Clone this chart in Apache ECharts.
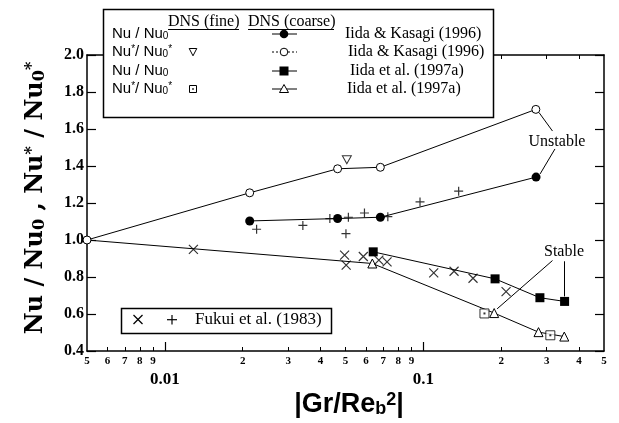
<!DOCTYPE html>
<html><head><meta charset="utf-8">
<script src="https://cdn.jsdelivr.net/npm/echarts@6/dist/echarts.min.js"></script>
<style>html,body{margin:0;padding:0;background:#fff}#c{width:619px;height:423px}</style>
</head><body><div id="c"></div>
<script>
// ---- data (x = |Gr/Re_b^2|, y = Nu/Nu0 or Nu*/Nu0*) ----
const ikStarX = [0.005, 0.0213, 0.0466, 0.0682, 0.2725];
const ikStarY = [1.0, 1.255, 1.385, 1.393, 1.706];
const ikX = [0.0213, 0.0466, 0.0682, 0.273];
const ikY = [1.103, 1.116, 1.123, 1.34];
const i97X = [0.064, 0.1895, 0.2825, 0.352];
const i97Y = [0.936, 0.79, 0.688, 0.668];
const i97StarX = [0.005, 0.0635, 0.188, 0.279, 0.351];
const i97StarY = [1.0, 0.873, 0.605, 0.502, 0.478];
const ikFineStarX = [0.0506];
const ikFineStarY = [1.434];
const i97FineStarX = [0.1724, 0.31];
const i97FineStarY = [0.603, 0.485];
const fukuiCrossX = [0.0129, 0.0496, 0.0503, 0.0586, 0.0673, 0.0724, 0.1097, 0.1315, 0.1557, 0.209];
const fukuiCrossY = [0.949, 0.918, 0.864, 0.911, 0.891, 0.882, 0.822, 0.831, 0.793, 0.721];
const fukuiPlusX = [0.02265, 0.0342, 0.0435, 0.0502, 0.0513, 0.0592, 0.0729, 0.0971, 0.137];
const fukuiPlusY = [1.058, 1.079, 1.116, 1.034, 1.123, 1.146, 1.126, 1.206, 1.264];
// ---- ticks ----
const minorTickValues = [0.006, 0.007, 0.008, 0.009, 0.02, 0.03, 0.04, 0.05, 0.06, 0.07, 0.08, 0.09, 0.2, 0.3, 0.4];
const minorLabelValues = [0.005, 0.006, 0.007, 0.008, 0.009, 0.02, 0.03, 0.04, 0.05, 0.06, 0.07, 0.08, 0.09, 0.2, 0.3, 0.4, 0.5];
const decadeValues = [0.01, 0.1];
const decadeLabels = ['0.01', '0.1'];
// ---- annotation arrows (data space) ----
const unstableArrows = [[[0.316, 1.589], [0.2806, 1.688]], [[0.323, 1.492], [0.283, 1.357]]];
const stableArrows = [[[0.316, 0.889], [0.193, 0.628]], [[0.35, 0.885], [0.35, 0.695]]];

const zip = (xs, ys) => xs.map((x, i) => [x, ys[i]]);
const SERIF = '"Liberation Serif", "Times New Roman", serif';
const SANS = '"Liberation Sans", Arial, sans-serif';
const XMIN = 0.005, XMAX = 0.5;

function leadDigit(v) {
  const e = Math.floor(Math.log10(v) + 1e-9);
  return String(Math.round(v / Math.pow(10, e)));
}

const baseX = {
  type: 'log', logBase: 10, min: XMIN, max: XMAX, gridIndex: 0,
  splitLine: { show: false }, minorTick: { show: false }, minorSplitLine: { show: false }
};

const xAxes = [
  Object.assign({}, baseX, {
    position: 'bottom',
    axisLine: { show: true, onZero: false, lineStyle: { color: '#000', width: 1.5 } },
    axisTick: { show: true, inside: true, length: 4, customValues: minorTickValues, lineStyle: { color: '#000', width: 1 } },
    axisLabel: { show: true, customValues: minorLabelValues, formatter: v => leadDigit(v), margin: 5, showMinLabel: true, showMaxLabel: true,
      fontFamily: SERIF, fontWeight: 'bold', fontSize: 11, color: '#000' }
  }),
  Object.assign({}, baseX, {
    position: 'bottom',
    axisLine: { show: false, onZero: false },
    axisTick: { show: true, inside: true, length: 9, customValues: decadeValues, lineStyle: { color: '#000', width: 1.2 } },
    axisLabel: { show: true, customValues: decadeValues, formatter: v => decadeLabels[decadeValues.findIndex(d => Math.abs(d - v) < 1e-9)] || '', margin: 20,
      fontFamily: SERIF, fontWeight: 'bold', fontSize: 17, color: '#000' }
  }),
  Object.assign({}, baseX, {
    position: 'top',
    axisLine: { show: true, onZero: false, lineStyle: { color: '#000', width: 1.5 } },
    axisTick: { show: true, inside: true, length: 4, customValues: minorTickValues, lineStyle: { color: '#000', width: 1 } },
    axisLabel: { show: false }
  }),
  Object.assign({}, baseX, {
    position: 'top',
    axisLine: { show: false, onZero: false },
    axisTick: { show: true, inside: true, length: 9, customValues: decadeValues, lineStyle: { color: '#000', width: 1.2 } },
    axisLabel: { show: false }
  })
];

const baseY = { type: 'value', min: 0.4, max: 2.0, interval: 0.2, splitLine: { show: false } };
const yAxes = [
  Object.assign({}, baseY, {
    position: 'left',
    axisLine: { show: true, onZero: false, lineStyle: { color: '#000', width: 1.5 } },
    axisTick: { show: true, inside: true, length: 9, lineStyle: { color: '#000', width: 1.2 } },
    axisLabel: { show: true, formatter: v => v.toFixed(1), margin: 3, fontFamily: SERIF, fontWeight: 'bold', fontSize: 16, color: '#000' }
  }),
  Object.assign({}, baseY, {
    position: 'right',
    axisLine: { show: true, onZero: false, lineStyle: { color: '#000', width: 1.5 } },
    axisTick: { show: true, inside: true, length: 9, lineStyle: { color: '#000', width: 1.2 } },
    axisLabel: { show: false }
  })
];

const lineSt = { color: '#000', width: 1 };
const openSt = { color: '#fff', borderColor: '#000', borderWidth: 1 };
const CROSS = 'path://M0,0L10,10M10,0L0,10';
const PLUS = 'path://M5,0L5,10M0,5L10,5';

function arrowLines(list) {
  return list.map(a => [{ coord: a[0] }, { coord: a[1] }]);
}

const series = [
  { name: 'ikStar', type: 'line', data: zip(i97StarX, i97StarY).map((p, i) => i === 0 ? { value: p, symbol: 'none' } : p),
    symbol: 'triangle', symbolSize: 9, itemStyle: openSt, lineStyle: lineSt, z: 3 },
  { name: 'i97', type: 'line', data: zip(i97X, i97Y), symbol: 'rect', symbolSize: 9, itemStyle: { color: '#000' }, lineStyle: lineSt, z: 3 },
  { name: 'ikS', type: 'line', data: zip(ikStarX, ikStarY), symbol: 'circle', symbolSize: 8, itemStyle: openSt, lineStyle: lineSt, z: 4 },
  { name: 'ik', type: 'line', data: zip(ikX, ikY), symbol: 'circle', symbolSize: 9, itemStyle: { color: '#000' }, lineStyle: lineSt, z: 4,
    markLine: { silent: true, animation: false, symbol: ['none', 'arrow'], symbolSize: [0, 7], label: { show: false },
      lineStyle: { color: '#000', width: 1, type: 'solid' }, emphasis: { disabled: true },
      data: arrowLines(unstableArrows.concat(stableArrows)) } },
  { name: 'ikFine', type: 'scatter', data: zip(ikFineStarX, ikFineStarY), symbol: 'triangle', symbolRotate: 180, symbolSize: [9, 8], itemStyle: openSt, z: 5 },
  { name: 'i97Fine', type: 'scatter', data: zip(i97FineStarX, i97FineStarY), symbol: 'rect', symbolSize: 9, itemStyle: openSt, z: 5 },
  { name: 'i97FineDot', type: 'scatter', data: zip(i97FineStarX, i97FineStarY), symbol: 'rect', symbolSize: 2, itemStyle: { color: '#000' }, z: 6 },
  { name: 'fukuiX', type: 'scatter', data: zip(fukuiCrossX, fukuiCrossY), symbol: CROSS, symbolSize: 9,
    itemStyle: { color: 'none', borderColor: '#000', borderWidth: 1.2 }, z: 5 },
  { name: 'fukuiP', type: 'scatter', data: zip(fukuiPlusX, fukuiPlusY), symbol: PLUS, symbolSize: 9,
    itemStyle: { color: 'none', borderColor: '#000', borderWidth: 1.2 }, z: 5 }
];

function txt(text, x, y, font, opts) {
  const o = Object.assign({ align: 'left', vAlign: 'middle' }, opts || {});
  return { type: 'text', x: x, y: y, rotation: o.rotation || 0, z: 100,
    style: { text: text, x: 0, y: 0, font: font, fill: '#000', align: o.align, textAlign: o.align,
      verticalAlign: o.vAlign, textVerticalAlign: o.vAlign, rich: o.rich } };
}
function seg(x1, y1, x2, y2, w, dash) {
  return { type: 'line', z: 101, shape: { x1: x1, y1: y1, x2: x2, y2: y2 },
    style: { stroke: '#000', lineWidth: w || 1, lineDash: dash ? [2, 2] : null } };
}
const legFont = '16px ' + SERIF;
const nuFont = '15px ' + SANS;
const nuRich = {
  sb: { fontSize: 10, fontFamily: SANS, verticalAlign: 'bottom', lineHeight: 10 },
  sp: { fontSize: 10, fontFamily: SANS, verticalAlign: 'top', lineHeight: 10 }
};
const rows = [34, 52, 71, 89];
const cX = 284, fX = 193;
const TF = '"DejaVu Serif", serif';

const graphic = [
  { type: 'rect', z: 99, shape: { x: 103.5, y: 9.5, width: 390, height: 108 }, style: { fill: '#fff', stroke: '#000', lineWidth: 1.5 } },
  txt('DNS (fine)', 168, 22, legFont), seg(168, 29.5, 239, 29.5),
  txt('DNS (coarse)', 248, 22, legFont), seg(248, 29.5, 334, 29.5),
  txt('Nu / Nu{sb|0}', 112, rows[0], nuFont, { rich: nuRich }),
  txt('Nu{sp|*}/ Nu{sb|0}{sp|*}', 112, rows[1], nuFont, { rich: nuRich }),
  txt('Nu / Nu{sb|0}', 112, rows[2], nuFont, { rich: nuRich }),
  txt('Nu{sp|*}/ Nu{sb|0}{sp|*}', 112, rows[3], nuFont, { rich: nuRich }),
  txt('Iida & Kasagi (1996)', 345, rows[0], legFont),
  txt('Iida & Kasagi (1996)', 348, rows[1], legFont),
  txt('Iida et al. (1997a)', 350, rows[2], legFont),
  txt('Iida et al. (1997a)', 347, rows[3], legFont),
  seg(272, rows[0], 297, rows[0]), { type: 'circle', z: 102, shape: { cx: cX, cy: rows[0], r: 4.3 }, style: { fill: '#000' } },
  seg(272, rows[1], 297, rows[1], 1, true), { type: 'circle', z: 102, shape: { cx: cX, cy: rows[1], r: 3.8 }, style: { fill: '#fff', stroke: '#000', lineWidth: 1 } },
  seg(272, rows[2], 297, rows[2]), { type: 'rect', z: 102, shape: { x: cX - 4.5, y: rows[2] - 4.5, width: 9, height: 9 }, style: { fill: '#000' } },
  seg(272, rows[3], 297, rows[3]), { type: 'polygon', z: 102, shape: { points: [[cX, rows[3] - 4.5], [cX + 4.5, rows[3] + 3.5], [cX - 4.5, rows[3] + 3.5]] }, style: { fill: '#fff', stroke: '#000', lineWidth: 1 } },
  { type: 'polygon', z: 102, shape: { points: [[fX - 3.8, rows[1] - 3.5], [fX + 3.8, rows[1] - 3.5], [fX, rows[1] + 3.8]] }, style: { fill: '#fff', stroke: '#000', lineWidth: 1 } },
  { type: 'rect', z: 102, shape: { x: fX - 3.5, y: rows[3] - 3.5, width: 7, height: 7 }, style: { fill: '#fff', stroke: '#000', lineWidth: 1 } },
  { type: 'rect', z: 103, shape: { x: fX - 0.8, y: rows[3] - 0.8, width: 1.6, height: 1.6 }, style: { fill: '#000' } },
  // Fukui legend
  { type: 'rect', z: 99, shape: { x: 121.5, y: 308.5, width: 210, height: 25 }, style: { fill: '#fff', stroke: '#000', lineWidth: 1.5 } },
  seg(133.5, 315, 142.5, 324, 1.2), seg(142.5, 315, 133.5, 324, 1.2),
  seg(172, 315, 172, 324.5, 1.2), seg(167, 319.7, 177, 319.7, 1.2),
  txt('Fukui et al. (1983)', 195, 320, '17px ' + SERIF),
  // annotations
  txt('Unstable', 557, 142, '16px ' + SERIF, { align: 'center' }),
  txt('Stable', 564, 252, '16px ' + SERIF, { align: 'center' }),
  // axis titles
  txt('Nu / Nu{sb|0} , Nu{sp|*} / Nu{sb|0}{sp|*}', 36, 198, 'bold 24px ' + TF,
    { align: 'center', rotation: Math.PI / 2, rich: {
      sb: { fontSize: 16, fontWeight: 'bold', fontFamily: TF, verticalAlign: 'bottom', lineHeight: 16 },
      sp: { fontSize: 16, fontWeight: 'bold', fontFamily: TF, verticalAlign: 'top', lineHeight: 16 } } }),
  txt('|Gr/Re{sb|b}{sp|2}|', 349, 405, 'bold 27px ' + SANS,
    { align: 'center', rich: {
      sb: { fontSize: 18, fontWeight: 'bold', fontFamily: SANS, verticalAlign: 'bottom', lineHeight: 18 },
      sp: { fontSize: 18, fontWeight: 'bold', fontFamily: SANS, verticalAlign: 'top', lineHeight: 18 } } })
];

const chart = echarts.init(document.getElementById('c'), null, { renderer: 'canvas' });
chart.setOption({
  animation: false,
  backgroundColor: '#fff',
  grid: { left: 87, right: 15, top: 55, bottom: 72, containLabel: false },
  xAxis: xAxes,
  yAxis: yAxes,
  series: series,
  graphic: graphic
});
</script></body></html>
